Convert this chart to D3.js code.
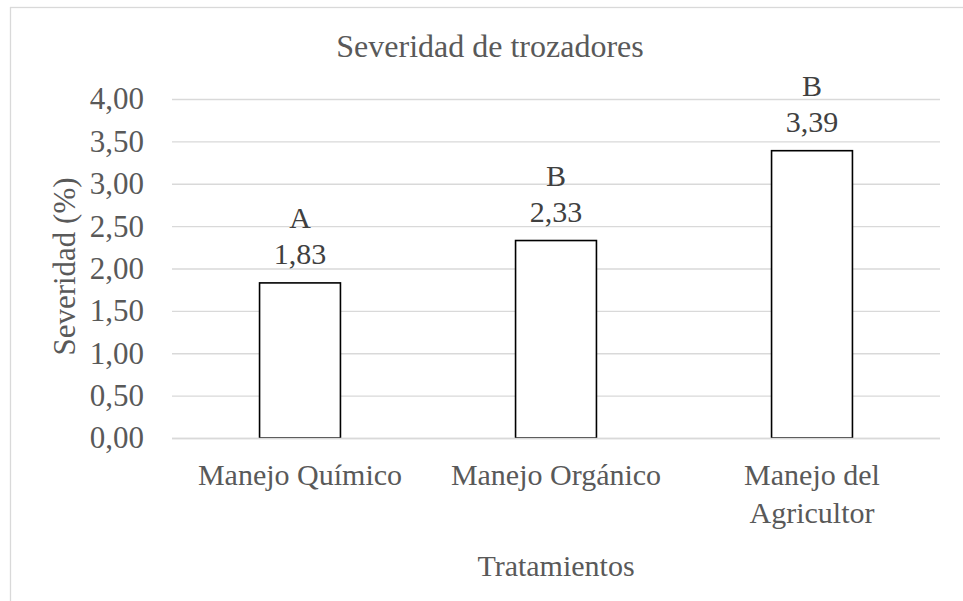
<!DOCTYPE html>
<html>
<head>
<meta charset="utf-8">
<script src="https://cdn.jsdelivr.net/npm/d3@7"></script>
<style>
body { margin: 0; background: #fff; }
svg text, svg tspan { font-family: "Liberation Serif", "Times New Roman", serif !important; }
.grid line { stroke: #d9d9d9; stroke-width: 1.3; }
.grid path { stroke: none; }
.grid text { fill: #595959; font-size: 31px; }
</style>
</head>
<body>
<svg width="963" height="601"></svg>
<script>
var categories = [ "Manejo Químico", "Manejo Orgánico", "Manejo del Agricultor" ];
var values = [ 1.83, 2.33, 3.39 ];
var letters = [ "A", "B", "B" ];
var yTicks = [ 0, 0.5, 1, 1.5, 2, 2.5, 3, 3.5, 4 ];

var serif = "Liberation Serif, Times New Roman, serif";
var margin = { left : 172, top : 99, right : 23, bottom : 163 };
var svg = d3.select("svg");
var width = 963 - margin.left - margin.right;
var height = 601 - margin.top - margin.bottom;

// chart area frame (runs off the right and bottom edge)
svg.append("rect").attr("x", 10.5).attr("y", 7.5).attr("width", 1000)
		.attr("height", 700).attr("fill", "none").attr("stroke", "#d9d9d9")
		.attr("stroke-width", 1.3);

var g = svg.append("g").attr("transform",
		"translate(" + margin.left + "," + margin.top + ")");

var xScale = d3.scaleBand().domain(categories).range([ 0, width ])
		.paddingInner(0.684).paddingOuter(0.342);
var yScale = d3.scaleLinear().domain([ 0, 4 ]).range([ height, 0 ]);
var fmt = function(v) { return d3.format(".2f")(v).replace(".", ","); };

g.append("g").attr("class", "grid").attr("font-family", serif)
		.call(d3.axisLeft(yScale).tickValues(yTicks).tickSize(-width)
		.tickPadding(28).tickFormat(fmt))
		.selectAll("text").attr("dy", "0.32em");

g.append("g").selectAll("rect").data(values).enter().append("rect")
		.attr("x", function(d, i) { return xScale(categories[i]); })
		.attr("y", function(d) { return yScale(d); })
		.attr("width", xScale.bandwidth())
		.attr("height", function(d) { return height - yScale(d); })
		.attr("fill", "#fff").attr("stroke", "#000").attr("stroke-width", 1.6);

// redraw baseline over bars
g.append("line").attr("x1", 0).attr("x2", width).attr("y1", height + 0.5)
		.attr("y2", height + 0.5).attr("stroke", "#d9d9d9").attr("stroke-width", 1.3);

var labels = g.append("g").attr("text-anchor", "middle").attr("fill", "#404040")
		.attr("font-family", serif).attr("font-size", 30);
labels.selectAll(".val").data(values).enter().append("text").attr("class", "val")
		.attr("x", function(d, i) { return xScale(categories[i]) + xScale.bandwidth() / 2; })
		.attr("y", function(d) { return yScale(d) - 19; })
		.text(fmt);
labels.selectAll(".let").data(values).enter().append("text").attr("class", "let")
		.attr("x", function(d, i) { return xScale(categories[i]) + xScale.bandwidth() / 2; })
		.attr("y", function(d) { return yScale(d) - 55; })
		.text(function(d, i) { return letters[i]; });

// category labels, wrapped like the original
var catText = g.append("g").attr("text-anchor", "middle").attr("fill", "#595959")
		.attr("font-family", serif).attr("font-size", 30)
		.selectAll("text").data(categories).enter().append("text")
		.attr("x", function(d) { return xScale(d) + xScale.bandwidth() / 2; })
		.attr("y", height + 47);
catText.each(function(d) {
	var lines = d === "Manejo del Agricultor" ? [ "Manejo del", "Agricultor" ] : [ d ];
	var t = d3.select(this);
	lines.forEach(function(l, k) {
		t.append("tspan").attr("x", t.attr("x")).attr("dy", k ? 38 : 0).text(l);
	});
});

svg.append("text").attr("x", 490).attr("y", 57).attr("text-anchor", "middle")
		.attr("fill", "#595959").attr("font-family", serif).attr("font-size", 32)
		.text("Severidad de trozadores");

svg.append("text").attr("transform", "translate(75," + (margin.top + height / 2 - 2) + ") rotate(-90)")
		.attr("text-anchor", "middle").attr("fill", "#595959")
		.attr("font-family", serif).attr("font-size", 31)
		.text("Severidad (%)");

svg.append("text").attr("x", margin.left + width / 2).attr("y", 576)
		.attr("text-anchor", "middle").attr("fill", "#595959")
		.attr("font-family", serif).attr("font-size", 30)
		.text("Tratamientos");
</script>
</body>
</html>
